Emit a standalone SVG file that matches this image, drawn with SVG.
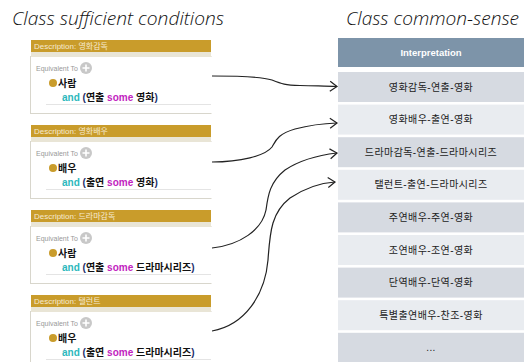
<svg xmlns="http://www.w3.org/2000/svg" width="528" height="362" viewBox="0 0 528 362">
<defs>
<style>
.title{font-family:"Open Sans","DejaVu Sans",sans-serif;font-style:italic;font-weight:300;font-size:19px;fill:#111}
.gold{fill:#c99c2b}
.strip{fill:#e9e5d6}
.box{fill:#fff;stroke:#d8d6cc;stroke-width:1}
.desc{font-family:"Liberation Sans","Noto Sans CJK KR",sans-serif;font-size:8px;fill:#f6ead0}
.eq{font-family:"Liberation Sans","Noto Sans CJK KR",sans-serif;font-size:7px;fill:#999}
.cls{font-family:"Liberation Sans","Noto Sans CJK KR",sans-serif;font-size:10px;font-weight:bold;fill:#111}
.and{fill:#2cb8bc}
.par{fill:#1c2f6b}
.some{fill:#c21dc0}
.hdr{fill:#7d94a9}
.dk{fill:#d6dae1}
.lt{fill:#e9ecf0}
.cell{font-family:"Liberation Sans","Noto Sans CJK KR",sans-serif;font-size:10px;letter-spacing:0.4px;fill:#222;text-anchor:middle}
.conn{fill:none;stroke:#222;stroke-width:1.2}
</style>
<marker id="ah" markerWidth="10" markerHeight="12" refX="8" refY="6" orient="auto" markerUnits="userSpaceOnUse">
<path d="M1,1 L8,6 L1,11" fill="none" stroke="#222" stroke-width="1.2"/>
</marker>
<g id="plus">
<circle r="6" fill="#c8c8c8"/>
<path d="M-3.5,0 H3.5 M0,-3.5 V3.5" stroke="#fff" stroke-width="1.6"/>
</g>
</defs>
<rect width="528" height="362" fill="#fff"/>
<text class="title" x="12" y="25" textLength="212" lengthAdjust="spacingAndGlyphs">Class sufficient conditions</text>
<text class="title" x="346" y="25" textLength="173" lengthAdjust="spacingAndGlyphs">Class common-sense</text>

<g id="panel1" transform="translate(0,40)">
<rect class="box" x="30.5" y="16.5" width="190" height="57"/>
<rect class="gold" x="31" y="0" width="180" height="12"/>
<rect class="strip" x="31" y="12" width="180" height="5"/>
<text class="desc" x="34" y="9">Description: 영화감독</text>
<text class="eq" x="36" y="31">Equivalent To</text>
<use href="#plus" x="86" y="28"/>
<circle cx="53" cy="43" r="4" fill="#c99c2b"/>
<text class="cls" x="58" y="47">사람</text>
<text class="cls" x="62" y="61"><tspan class="and">and</tspan> <tspan class="par">(</tspan>연출 <tspan class="some">some</tspan> 영화<tspan class="par">)</tspan></text>
<line x1="46" y1="64.5" x2="211" y2="64.5" stroke="#e4e4e4"/>
</g>

<g id="panel2" transform="translate(0,125)">
<rect class="box" x="30.5" y="16.5" width="190" height="57"/>
<rect class="gold" x="31" y="0" width="180" height="12"/>
<rect class="strip" x="31" y="12" width="180" height="5"/>
<text class="desc" x="34" y="9">Description: 영화배우</text>
<text class="eq" x="36" y="31">Equivalent To</text>
<use href="#plus" x="86" y="28"/>
<circle cx="53" cy="43" r="4" fill="#c99c2b"/>
<text class="cls" x="58" y="47">배우</text>
<text class="cls" x="62" y="61"><tspan class="and">and</tspan> <tspan class="par">(</tspan>출연 <tspan class="some">some</tspan> 영화<tspan class="par">)</tspan></text>
<line x1="46" y1="64.5" x2="211" y2="64.5" stroke="#e4e4e4"/>
</g>

<g id="panel3" transform="translate(0,210)">
<rect class="box" x="30.5" y="16.5" width="190" height="57"/>
<rect class="gold" x="31" y="0" width="180" height="12"/>
<rect class="strip" x="31" y="12" width="180" height="5"/>
<text class="desc" x="34" y="9">Description: 드라마감독</text>
<text class="eq" x="36" y="31">Equivalent To</text>
<use href="#plus" x="86" y="28"/>
<circle cx="53" cy="43" r="4" fill="#c99c2b"/>
<text class="cls" x="58" y="47">사람</text>
<text class="cls" x="62" y="61"><tspan class="and">and</tspan> <tspan class="par">(</tspan>연출 <tspan class="some">some</tspan> 드라마시리즈<tspan class="par">)</tspan></text>
<line x1="46" y1="64.5" x2="211" y2="64.5" stroke="#e4e4e4"/>
</g>

<g id="panel4" transform="translate(0,295)">
<rect class="box" x="30.5" y="16.5" width="190" height="57"/>
<rect class="gold" x="31" y="0" width="180" height="12"/>
<rect class="strip" x="31" y="12" width="180" height="5"/>
<text class="desc" x="34" y="9">Description: 탤런트</text>
<text class="eq" x="36" y="31">Equivalent To</text>
<use href="#plus" x="86" y="28"/>
<circle cx="53" cy="43" r="4" fill="#c99c2b"/>
<text class="cls" x="58" y="47">배우</text>
<text class="cls" x="62" y="61"><tspan class="and">and</tspan> <tspan class="par">(</tspan>출연 <tspan class="some">some</tspan> 드라마시리즈<tspan class="par">)</tspan></text>
<line x1="46" y1="64.5" x2="211" y2="64.5" stroke="#e4e4e4"/>
</g>

<rect x="211.5" y="30" width="12" height="332" fill="#fff"/>

<g id="table">
<rect class="hdr" x="338" y="38" width="186" height="29"/>
<text class="cell" x="431" y="56" style="fill:#fff;font-weight:bold;font-size:9.5px;letter-spacing:0">Interpretation</text>
<g id="row1"><rect class="dk" x="338" y="72" width="186" height="30"/><text class="cell" x="431" y="90.5">영화감독-연출-영화</text></g>
<g id="row2"><rect class="lt" x="338" y="104.6" width="186" height="30"/><text class="cell" x="431" y="123">영화배우-출연-영화</text></g>
<g id="row3"><rect class="dk" x="338" y="137.2" width="186" height="30"/><text class="cell" x="431" y="155.7">드라마감독-연출-드라마시리즈</text></g>
<g id="row4"><rect class="lt" x="338" y="169.8" width="186" height="30"/><text class="cell" x="431" y="188.3">탤런트-출연-드라마시리즈</text></g>
<g id="row5"><rect class="dk" x="338" y="202.4" width="186" height="30"/><text class="cell" x="431" y="220.9">주연배우-주연-영화</text></g>
<g id="row6"><rect class="lt" x="338" y="235" width="186" height="30"/><text class="cell" x="431" y="253.5">조연배우-조연-영화</text></g>
<g id="row7"><rect class="dk" x="338" y="267.6" width="186" height="30"/><text class="cell" x="431" y="286.1">단역배우-단역-영화</text></g>
<g id="row8"><rect class="lt" x="338" y="300.2" width="186" height="30"/><text class="cell" x="431" y="318.7">특별출연배우-찬조-영화</text></g>
<g id="row9"><rect class="dk" x="338" y="332.8" width="186" height="30"/><text class="cell" x="431" y="351.3">...</text></g>
</g>

<g id="connectors">
<path class="conn" marker-end="url(#ah)" d="M212,76 C240,76 262,77 272,80 C282,84 285,85 300,85.5 C315,86 325,86 337,86.5"/>
<path class="conn" marker-end="url(#ah)" d="M212,162 C240,162 265,156 272,147 C276,140 278,134 295,129 C310,125 322,123.5 337,123"/>
<path class="conn" marker-end="url(#ah)" d="M212,248 C240,245 262,230 266,210 C268,195 270,182 285,170 C300,160 320,155 337,153"/>
<path class="conn" marker-end="url(#ah)" d="M212,331 C245,325 265,295 268,260 C270,230 272,212 290,198 C305,188 320,183 335,182"/>
</g>
</svg>
